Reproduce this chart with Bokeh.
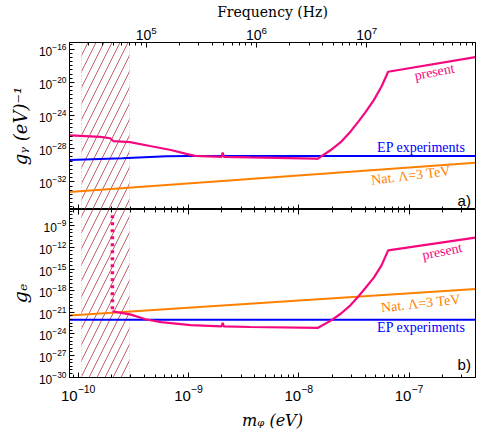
from bokeh.plotting import figure
from bokeh.layouts import column
from bokeh.models import (Range1d, LogAxis, LogScale, FixedTicker, BoxAnnotation,
                          ColumnDataSource, CustomJSTickFormatter)
from bokeh.core.properties import value
from bokeh.embed import file_html
from bokeh.resources import INLINE

# ---------------- data (log10 values) ----------------
EV_TO_HZ = 2.418e14
X_LOG_RANGE = (-10.079, -6.398)
TOP_Y_LOG_RANGE = (-35.33, -15.2)
BOT_Y_LOG_RANGE = (-30.04, -6.75)
HATCH_LOGM = (-9.970, -9.535)

# panel a) : g_gamma
top_present_logm = [-10.08, -9.98, -9.80, -9.71, -9.68, -9.53, -9.35, -9.16, -9.02, -8.94,
                    -8.70, -8.69, -8.68, -8.44, -7.85, -7.83, -7.71, -7.62, -7.53, -7.46,
                    -7.40, -7.32, -7.25, -7.19, -6.40]
top_present_logg = [-26.39, -26.45, -26.57, -26.74, -27.10, -27.21, -27.68, -28.16, -28.63, -28.87,
                    -28.98, -28.45, -28.98, -29.05, -29.20, -29.22, -28.16, -27.21, -25.92, -24.74,
                    -23.68, -22.15, -20.50, -18.73, -16.97]
top_ep_logm = [-10.08, -9.60, -9.20, -9.00, -6.40]
top_ep_logg = [-29.37, -29.15, -28.92, -28.88, -28.88]
top_nat_logm = [-10.08, -6.40]
top_nat_logg = [-33.22, -29.69]

# panel b) : g_e
bot_present_logm = [-9.69, -9.53, -9.39, -9.25, -8.98, -8.70, -8.69, -8.68, -8.44, -7.83,
                    -7.71, -7.62, -7.53, -7.46, -7.40, -7.32, -7.25, -7.19, -6.40]
bot_present_logg = [-20.88, -21.29, -21.96, -22.36, -22.77, -22.95, -22.46, -22.95, -23.04, -23.17,
                    -22.16, -21.20, -20.00, -18.80, -17.70, -16.20, -14.50, -12.42, -10.65]
bot_dash_logm = [-9.69, -9.69]
bot_dash_logg = [-7.56, -20.88]
bot_ep_logm = [-10.08, -6.40]
bot_ep_logg = [-22.02, -22.02]
bot_nat_logm = [-10.08, -6.40]
bot_nat_logg = [-21.46, -17.77]

# text labels: (log m, log g, angle rad)
top_labels = dict(text=["present", "EP experiments", "Nat. \u039b=3  TeV"],
                  logm=[-6.77, -6.89, -6.97], logg=[-18.75, -27.80, -31.20],
                  angle=[0.19, 0.0, 0.12], color=["#F5087F", "#0000FF", "#FF8000"])
bot_labels = dict(text=["present", "EP experiments", "Nat. \u039b=3  TeV"],
                  logm=[-6.70, -6.89, -6.88], logg=[-12.55, -23.13, -19.75],
                  angle=[0.20, 0.0, 0.11], color=["#F5087F", "#0000FF", "#FF8000"])

TOP_Y_MAJOR = [-32, -28, -24, -20, -16]
BOT_Y_MAJOR = [-30, -27, -24, -21, -18, -15, -12, -9]
X_MAJOR = [-10, -9, -8, -7]
F_MAJOR = [5, 6, 7, 8]

PINK = "#F5087F"
BLUE = "#0000FF"
ORANGE = "#FF8000"
HATCH = "#B03A3A"
SERIF = "Liberation Serif"
TITLE_SERIF = "DejaVu Serif"
SANS = "Liberation Sans"


def p10(a):
    return [10 ** v for v in a]


def log_minor(lo, hi):
    out = []
    for d in range(lo, hi + 1):
        for k in range(1, 10):
            out.append(k * 10.0 ** d)
    return out


def half_minor(lo, hi):
    return [10 ** (h / 2) for h in range(2 * lo, 2 * hi + 1)]


def style_axis(ax, size):
    ax.major_tick_in = 5
    ax.major_tick_out = 0
    ax.minor_tick_in = 3
    ax.minor_tick_out = 0
    ax.axis_line_color = "black"
    ax.major_tick_line_color = "black"
    ax.minor_tick_line_color = "black"
    ax.major_label_text_font = SANS
    ax.major_label_text_font_size = size
    ax.major_label_text_color = "black"
    ax.major_label_standoff = 3


def hide_labels(ax):
    ax.formatter = CustomJSTickFormatter(code="return ''")
    ax.major_label_text_font_size = "0px"
    ax.major_label_standoff = 0


def title_axis(ax, text, size, style, standoff):
    ax.axis_label = text
    ax.axis_label_text_font = TITLE_SERIF
    ax.axis_label_text_font_size = size
    ax.axis_label_text_font_style = style
    ax.axis_label_standoff = standoff
    ax.axis_label_text_color = "black"


XMIN, XMAX = 10 ** X_LOG_RANGE[0], 10 ** X_LOG_RANGE[1]

common = dict(width=488, x_axis_type="log", y_axis_type="log", output_backend="svg",
              toolbar_location=None, min_border_left=69, min_border_right=13,
              background_fill_color="white", border_fill_color="white")

# ---------------- top panel ----------------
x_range = Range1d(XMIN, XMAX)
p1 = figure(height=209, x_range=x_range,
            y_range=Range1d(10 ** TOP_Y_LOG_RANGE[0], 10 ** TOP_Y_LOG_RANGE[1]),
            min_border_top=38, min_border_bottom=0, **common)
p1.extra_x_ranges = {"freq": Range1d(XMIN * EV_TO_HZ, XMAX * EV_TO_HZ)}
p1.extra_x_scales = {"freq": LogScale()}

p1.xaxis.ticker = FixedTicker(ticks=p10(X_MAJOR), minor_ticks=log_minor(-11, -7))
style_axis(p1.xaxis[0], "0px")
hide_labels(p1.xaxis[0])

p1.yaxis.ticker = FixedTicker(ticks=p10(TOP_Y_MAJOR), minor_ticks=half_minor(-36, -15))
style_axis(p1.yaxis[0], "12px")
title_axis(p1.yaxis[0], "g\u1d67 (eV)\u207b\u00b9", "18px", "italic", 5)

fax = LogAxis(x_range_name="freq",
              ticker=FixedTicker(ticks=p10(F_MAJOR), minor_ticks=log_minor(4, 8)))
style_axis(fax, "14px")
title_axis(fax, "Frequency (Hz)", "14px", "normal", 3)
p1.add_layout(fax, "above")

# ---------------- bottom panel ----------------
p2 = figure(height=223, x_range=x_range,
            y_range=Range1d(10 ** BOT_Y_LOG_RANGE[0], 10 ** BOT_Y_LOG_RANGE[1]),
            min_border_top=0, min_border_bottom=50, **common)
p2.xaxis.ticker = FixedTicker(ticks=p10(X_MAJOR), minor_ticks=log_minor(-11, -7))
style_axis(p2.xaxis[0], "15px")
p2.xaxis.major_label_standoff = 7
title_axis(p2.xaxis[0], "m\u1d69 (eV)", "16px", "italic", 7)

p2.yaxis.ticker = FixedTicker(ticks=p10(BOT_Y_MAJOR), minor_ticks=half_minor(-31, -6))
style_axis(p2.yaxis[0], "12px")
title_axis(p2.yaxis[0], "g\u2091", "19px", "italic", 5)

tax = LogAxis(ticker=FixedTicker(ticks=p10(X_MAJOR), minor_ticks=log_minor(-11, -7)))
style_axis(tax, "0px")
hide_labels(tax)
p2.add_layout(tax, "above")

for p in (p1, p2):
    p.xgrid.visible = False
    p.ygrid.visible = False
    p.outline_line_color = "black"
    p.outline_line_alpha = 1.0
    p.outline_line_width = 1
    p.add_layout(BoxAnnotation(left=10 ** HATCH_LOGM[0], right=10 ** HATCH_LOGM[1],
                               fill_alpha=0, hatch_pattern="/", hatch_color=HATCH,
                               hatch_scale=16, hatch_weight=0.8, line_color="#bbbbbb",
                               line_alpha=0.7, line_dash="1 2", level="underlay"))


def draw(p, logm, logg, color, width, dash="solid"):
    p.line(p10(logm), p10(logg), line_color=color, line_width=width, line_dash=dash)


draw(p1, top_nat_logm, top_nat_logg, ORANGE, 2)
draw(p1, top_ep_logm, top_ep_logg, BLUE, 2)
draw(p1, top_present_logm, top_present_logg, PINK, 2.2)

draw(p2, bot_nat_logm, bot_nat_logg, ORANGE, 2)
draw(p2, bot_ep_logm, bot_ep_logg, BLUE, 2)
draw(p2, bot_present_logm, bot_present_logg, PINK, 2.2)
draw(p2, bot_dash_logm, bot_dash_logg, PINK, 3.5, "3 4")

for p, lab, tag, tag_logg in ((p1, top_labels, "a)", -34.25), (p2, bot_labels, "b)", -28.2)):
    src = ColumnDataSource(dict(x=p10(lab["logm"]), y=p10(lab["logg"]), text=lab["text"],
                                angle=lab["angle"], color=lab["color"]))
    p.text(x="x", y="y", text="text", angle="angle", text_color="color", source=src,
           text_font=value(SERIF), text_font_size="14px",
           text_align="center", text_baseline="middle")
    p.text(x=[10 ** -6.50], y=[10 ** tag_logg], text=[tag], text_font=value(SANS),
           text_font_size="15px", text_align="center", text_baseline="middle", text_color="black")

layout = column(p1, p2, spacing=0)
with open("out.html", "w") as f:
    f.write(file_html(layout, INLINE))
